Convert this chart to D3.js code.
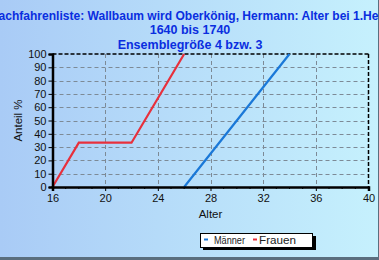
<!DOCTYPE html>
<html><head><meta charset="utf-8">
<script src="https://cdn.jsdelivr.net/npm/d3@7"></script>
<style>body{margin:0;padding:0;overflow:hidden}svg{display:block}</style>
</head><body>
<script>
const titleLines = ["Nachfahrenliste: Wallbaum wird Oberkönig, Hermann: Alter bei 1.Heirat", "1640 bis 1740", "Ensemblegröße 4 bzw. 3"];
const maennerAges = [26, 28, 30, 32, 34];
const maennerValues = [0, 25, 50, 75, 100];
const frauenAges = [16, 18, 22, 26];
const frauenValues = [0, 33.3, 33.3, 100];
const xTicks = [16, 20, 24, 28, 32, 36, 40];
const yTicks = [0, 10, 20, 30, 40, 50, 60, 70, 80, 90, 100];
const seriesNames = ["Männer", "Frauen"];
const seriesColors = ["#1a78d8", "#e8303c"];

const W = 379, H = 260;
const svg = d3.select("body").append("svg").attr("width", W).attr("height", H);
const defs = svg.append("defs");
const grad = defs.append("linearGradient").attr("id", "bg").attr("x1", 0).attr("x2", 1).attr("y1", 0).attr("y2", 0);
grad.append("stop").attr("offset", "0%").attr("stop-color", "#a9cbf6");
grad.append("stop").attr("offset", "100%").attr("stop-color", "#c6f1fd");
svg.append("rect").attr("width", W).attr("height", H).attr("fill", "url(#bg)");
svg.append("line").attr("x1", 0).attr("x2", W).attr("y1", H - 1.5).attr("y2", H - 1.5).attr("stroke", "#5a6e7e").attr("stroke-width", 3);
svg.append("line").attr("x1", W - 0.5).attr("x2", W - 0.5).attr("y1", 0).attr("y2", H).attr("stroke", "#5a6e7e").attr("stroke-width", 1);

const x = d3.scaleLinear().domain([16, 40]).range([52.5, 368.5]);
const y = d3.scaleLinear().domain([0, 100]).range([187, 54]);

// title
const tt = svg.append("g").attr("font-family", "'Liberation Sans', Arial, sans-serif").attr("font-weight", "bold")
  .attr("fill", "#0a2ee0").attr("text-anchor", "middle");
titleLines.forEach((t, i) => tt.append("text").attr("x", i === 0 ? 193.5 : 190).attr("y", 19.5 + i * 14.5)
  .attr("font-size", i === 0 ? 12.05 : 12.5).text(t));

// grid
const grid = svg.append("g").attr("stroke", "#7d8a96").attr("stroke-width", 1).attr("stroke-dasharray", "4,3");
yTicks.filter(v => v > 0 && v < 100).forEach(v => grid.append("line").attr("x1", x(16)).attr("x2", x(40)).attr("y1", Math.round(y(v)) + 0.5).attr("y2", Math.round(y(v)) + 0.5));
xTicks.filter(v => v > 16 && v < 40).forEach(v => grid.append("line").attr("x1", Math.round(x(v)) + 0.5).attr("x2", Math.round(x(v)) + 0.5).attr("y1", y(100)).attr("y2", y(0)));

// top/right dashed border
const bd = svg.append("g").attr("stroke", "#000").attr("stroke-width", 1.5).attr("stroke-dasharray", "4,2");
bd.append("line").attr("x1", x(16)).attr("x2", x(40)).attr("y1", y(100)).attr("y2", y(100));
bd.append("line").attr("x1", x(40)).attr("x2", x(40)).attr("y1", y(100)).attr("y2", y(0));

// lines
const lineGen = d3.line().x(d => x(d[0])).y(d => y(d[1]));
const series = [maennerAges.map((a, i) => [a, maennerValues[i]]), frauenAges.map((a, i) => [a, frauenValues[i]])];
series.forEach((s, i) => svg.append("path").attr("d", lineGen(s)).attr("fill", "none").attr("stroke", seriesColors[i]).attr("stroke-width", 2.2));

// axes
const font = "Arial, 'Liberation Sans', sans-serif";
const yAxis = svg.append("g").attr("transform", `translate(${x(16)},0)`)
  .call(d3.axisLeft(y).tickValues(yTicks).tickSize(4).tickPadding(2));
yAxis.select(".domain").attr("stroke-width", 2.5);
yAxis.selectAll("text").attr("font-family", font).attr("font-size", 11).attr("fill", "#111");
const xAxis = svg.append("g").attr("transform", `translate(0,${y(0)})`)
  .call(d3.axisBottom(x).tickValues(xTicks).tickSize(4).tickPadding(3));
xAxis.select(".domain").attr("stroke-width", 2.5);
xAxis.selectAll("text").attr("font-family", font).attr("font-size", 11).attr("fill", "#111");
// minor ticks
const minor = d3.range(17, 40).filter(v => !xTicks.includes(v));
svg.append("g").selectAll("line").data(minor).join("line")
  .attr("x1", d => x(d)).attr("x2", d => x(d)).attr("y1", y(0)).attr("y2", y(0) + 2).attr("stroke", "#000");

svg.append("text").attr("x", x(28)).attr("y", 218).attr("text-anchor", "middle").attr("font-family", font).attr("font-size", 11.5).attr("fill", "#111").text("Alter");
svg.append("text").attr("transform", `translate(22,${y(50)}) rotate(-90)`).attr("text-anchor", "middle").attr("font-family", font).attr("font-size", 11.5).attr("fill", "#111").text("Anteil %");

// legend
const lg = svg.append("g");
lg.append("rect").attr("x", 203).attr("y", 236).attr("width", 113).attr("height", 14).attr("fill", "#000");
lg.append("rect").attr("x", 200.5).attr("y", 233.5).attr("width", 112).attr("height", 14).attr("fill", "#fff").attr("stroke", "#000");
const items = [[204, 214, 31, 0], [253, 259, 37, 1]];
items.forEach(([lx, tx, tl, i]) => {
  lg.append("line").attr("x1", lx).attr("x2", lx + 4).attr("y1", 239.5).attr("y2", 239.5).attr("stroke", seriesColors[i]).attr("stroke-width", 2);
  lg.append("text").attr("x", tx).attr("y", 243.5).attr("font-family", font).attr("font-size", 11.5)
    .attr("textLength", tl).attr("lengthAdjust", "spacingAndGlyphs").attr("fill", "#222").text(seriesNames[i]);
});
</script>
</body></html>
